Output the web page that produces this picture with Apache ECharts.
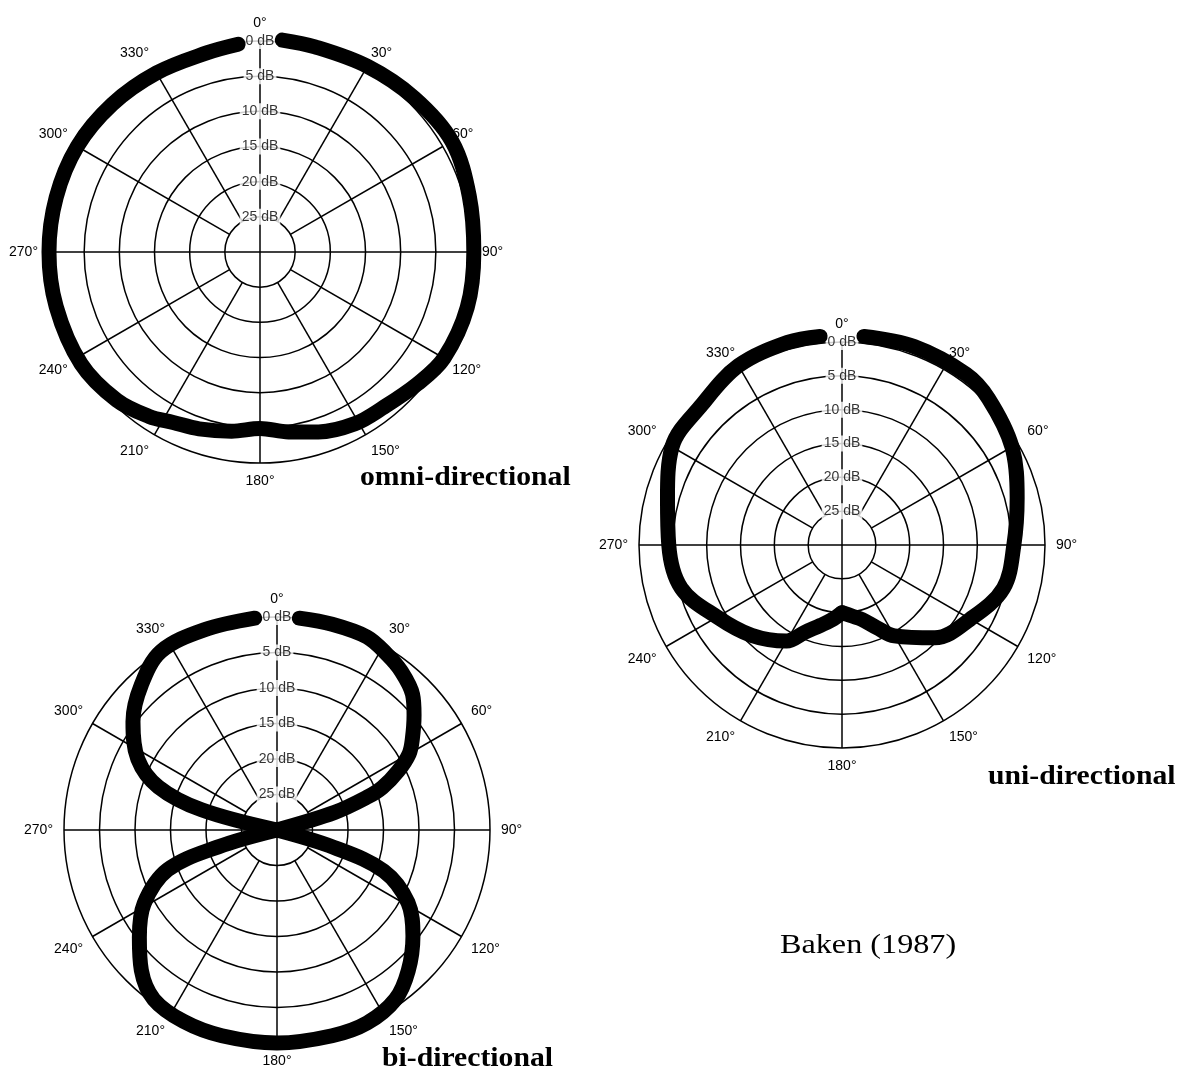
<!DOCTYPE html>
<html><head><meta charset="utf-8">
<script src="https://cdn.jsdelivr.net/npm/echarts@6/dist/echarts.min.js"></script>
<style>html,body{margin:0;padding:0;background:#fff}#c{width:1177px;height:1075px}</style>
</head><body><div id="c"></div>
<script>
// ---- data ----
const angleTicks = [0, 30, 60, 90, 120, 150, 180, 210, 240, 270, 300, 330];
const dbLevels = [0, 5, 10, 15, 20, 25];
const fullSpokes = [0, 90, 180, 270];

const omniAngles = [6, 15, 30, 45, 60, 75, 90, 105, 120, 130, 142, 151, 162, 171, 180, 189, 199, 207, 214, 224, 238, 255, 270, 285, 300, 315, 330, 345, 354];
const omniDb     = [-0.3, -0.2, -0.5, -1, -1.5, -0.8, -0.4, -0.5, -0.2, 0.8, 1.8, 2.1, 3.1, 4.1, 4.9, 4.2, 3.4, 2.8, 1.8, 0.7, 0, 0, 0, 0, 0, 0.3, 0.6, 0.7, 0.3];

const uniAngles = [6, 20, 36, 45, 60, 75, 90, 105, 120, 135, 150, 157, 165, 172, 180, 188, 195, 203, 210, 225, 240, 255, 270, 285, 300, 315, 330, 345, 354];
const uniDb     = [-1, -1.2, -1.2, -0.6, 1, 3.2, 4.6, 5.3, 8.1, 10.6, 14.5, 16.7, 18.6, 19.4, 20, 18.8, 17.7, 16, 13.6, 11.1, 8.7, 5.4, 4.4, 3.3, 1, 0.7, -0.6, -1, -1];

const biAngles = [6, 15, 25, 32, 38, 45, 50, 56, 60, 64, 68, 70, 73, 78, 102, 107, 111, 119, 128, 137, 145, 155, 165, 180, 195, 206, 216, 224, 232, 241, 250, 254, 257, 283, 285, 290, 297, 307, 317, 327, 340, 354];
const biDb     = [0, 0, 0, 0.8, 1.6, 3, 4.8, 7, 8.5, 11, 14, 16.5, 21.5, 30, 30, 21.6, 13.9, 8.9, 5.7, 2.9, 0.9, 0, 0, 0, 0, 0, 0.5, 2.5, 5.4, 8.6, 13.6, 21.4, 30, 30, 19, 12.2, 8, 4.6, 2, 0, 0, 0];

const plotNames = ['omni-directional', 'uni-directional', 'bi-directional'];
const credit = 'Baken (1987)';

// ---- layout ----
const layout = [
  { center: [260, 252], radius: 211 },
  { center: [842, 545], radius: 203 },
  { center: [277, 830], radius: 213 }
];
const curves = [
  { a: omniAngles, d: omniDb, pieces: [[0, 360]] },
  { a: uniAngles, d: uniDb, pieces: [[0, 180], [180, 360]] },
  { a: biAngles, d: biDb, pieces: [[0, 78], [102, 257], [283, 360]] }
];
const FONT = '"Liberation Sans", Arial, sans-serif';
const AX_MIN = -5, AX_MAX = 30;   // extra band outside 0 dB so the heavy trace is not clipped

const polar = [], angleAxis = [], radiusAxis = [], series = [];
layout.forEach((L, i) => {
  const outerR = L.radius * (AX_MAX - AX_MIN) / AX_MAX;
  polar.push({ center: L.center, radius: outerR });
  angleAxis.push({
    polarIndex: i, type: 'value', min: 0, max: 360, interval: 30,
    startAngle: 90, clockwise: true,
    axisLine: { show: false },
    axisTick: { show: false },
    splitLine: { show: false },
    axisLabel: {
      color: '#000', fontSize: 14, fontFamily: FONT, margin: 11 - (outerR - L.radius),
      formatter: v => (v === 360 ? '' : v + '°')
    }
  });
  radiusAxis.push({
    polarIndex: i, type: 'value', min: AX_MIN, max: AX_MAX, interval: 5, inverse: true,
    axisLine: { show: false }, axisTick: { show: false }, axisLabel: { show: false },
    splitLine: { lineStyle: { color: ['rgba(0,0,0,0)', '#000', '#000', '#000', '#000', '#000', '#000', '#000'], width: 1.5 } }
  });
  angleTicks.forEach(a => {
    const inner = fullSpokes.includes(a) ? 30 : 25;
    series.push({
      type: 'line', coordinateSystem: 'polar', polarIndex: i, z: 1,
      data: [[0, a], [inner, a]], showSymbol: false, silent: true,
      lineStyle: { color: '#000', width: 1.5 }
    });
  });
  series.push({
    type: 'scatter', coordinateSystem: 'polar', polarIndex: i, z: 3,
    symbolSize: 0, itemStyle: { color: '#000' }, silent: true,
    data: dbLevels.map(d => [d, 0]),
    label: {
      show: true, position: 'inside', color: '#000', fontSize: 14, fontFamily: FONT,
      textBorderWidth: 0, backgroundColor: '#fff', padding: [1, 2],
      formatter: p => p.value[0] + ' dB'
    }
  });
  const C = curves[i];
  C.pieces.forEach(([lo, hi]) => {
    const pts = [];
    C.a.forEach((a, k) => { if (a >= lo && a <= hi) pts.push([C.d[k], a]); });
    series.push({
      type: 'line', coordinateSystem: 'polar', polarIndex: i, z: 5, clip: false,
      data: pts, showSymbol: false, smooth: 0.35, silent: true,
      lineStyle: { color: '#000', width: 15, cap: 'round', join: 'round' }
    });
  });
});

const boldFont = 'bold 27px "Liberation Serif", "Times New Roman", serif';
const chart = echarts.init(document.getElementById('c'), null, { renderer: 'canvas' });
chart.setOption({
  animation: false,
  backgroundColor: '#fff',
  polar, angleAxis, radiusAxis, series,
  graphic: [
    { type: 'text', x: 360, y: 478, scaleX: 1.1, style: { text: plotNames[0], font: boldFont, fill: '#000', verticalAlign: 'middle' } },
    { type: 'text', x: 988, y: 777, scaleX: 1.1, style: { text: plotNames[1], font: boldFont, fill: '#000', verticalAlign: 'middle' } },
    { type: 'text', x: 382, y: 1059, scaleX: 1.1, style: { text: plotNames[2], font: boldFont, fill: '#000', verticalAlign: 'middle' } },
    { type: 'text', x: 780, y: 946, scaleX: 1.15, style: { text: credit, font: '28px "Liberation Serif", "Times New Roman", serif', fill: '#000', verticalAlign: 'middle' } }
  ]
});
</script></body></html>
